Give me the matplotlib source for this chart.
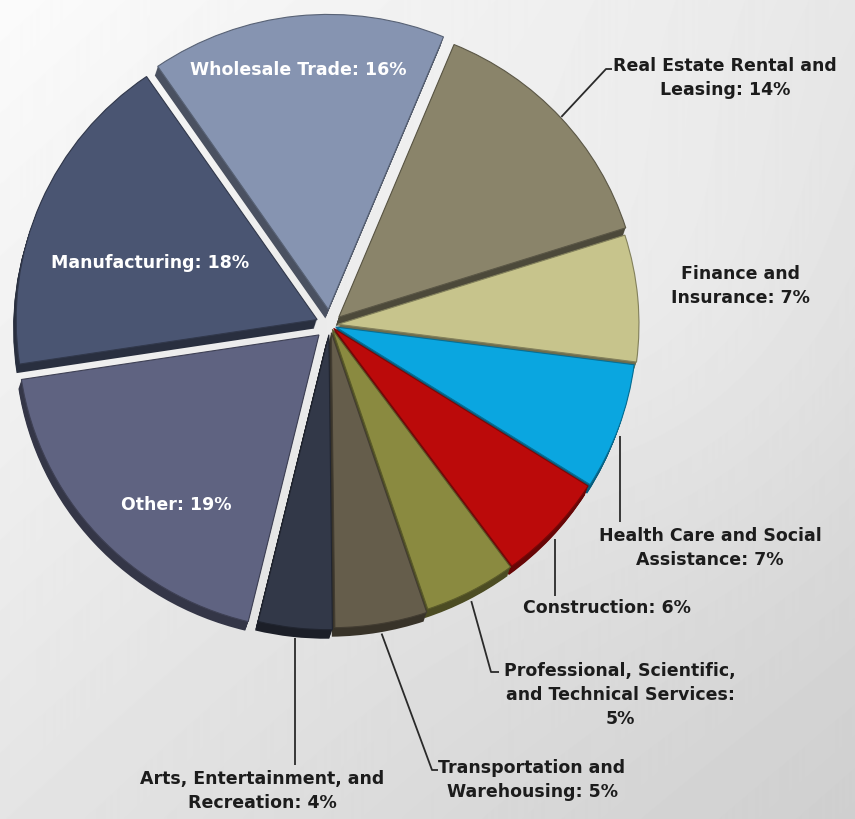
import numpy as np
import matplotlib
matplotlib.use("Agg")
import matplotlib.pyplot as plt
from matplotlib.colors import to_rgb

# ---------------- data ----------------
categories = [
    "Real Estate Rental and Leasing",
    "Finance and Insurance",
    "Health Care and Social Assistance",
    "Construction",
    "Professional, Scientific, and Technical Services",
    "Transportation and Warehousing",
    "Arts, Entertainment, and Recreation",
    "Other",
    "Manufacturing",
    "Wholesale Trade",
]
shares = [14, 7, 7, 6, 5, 5, 4, 19, 18, 16]
label_texts = [
    "Real Estate Rental and\nLeasing: 14%",
    "Finance and\nInsurance: 7%",
    "Health Care and Social\nAssistance: 7%",
    "Construction: 6%",
    "Professional, Scientific,\nand Technical Services:\n5%",
    "Transportation and\nWarehousing: 5%",
    "Arts, Entertainment, and\nRecreation: 4%",
    "Other: 19%",
    "Manufacturing: 18%",
    "Wholesale Trade: 16%",
]

# ---------------- style / layout ----------------
colors = ["#8a846a", "#c7c48c", "#0aa6e0", "#bb0a0a", "#8a8a40",
          "#655d4b", "#323848", "#5f6381", "#4a5572", "#8694b1"]
explode_px = [12, 8, 6, 5, 5, 8, 10, 15, 14, 16]
inside = [False] * 7 + [True] * 3
label_pos = [(725, 78), (740, 286), (710, 548), (607, 608), (620, 695),
             (532, 780), (262, 791), (176, 505), (150, 263), (298, 70)]
# leader paths after the start point on the slice; None for x = keep start x
leaders = {
    0: [(606, 69), (612, 69)],
    2: [(None, 522)],
    3: [(None, 596)],
    4: [(491, 672), (499, 672)],
    5: [(432, 770), (438, 770)],
    6: [(None, 765)],
}

W, H = 855, 819
K = 0.98            # vertical squash of the pie
cx, cy, R = 330, 325, 301
START = 67.5
DEPTH = 9           # extrusion depth in px

plt.rcParams['font.family'] = ['DejaVu Sans']

fig = plt.figure(figsize=(W / 100, H / 100), dpi=100)

# background gradient
bg = fig.add_axes([0, 0, 1, 1])
yy, xx = np.mgrid[0:H, 0:W]
val = 0.985 - 0.085 * (xx / W) - 0.09 * (yy / H)
bump = 0.03 * np.exp(-(((xx - 650) / 260) ** 2 + ((yy - 300) / 260) ** 2))
val = np.clip(val + bump, 0, 1)
bg.imshow(val, cmap='gray', vmin=0, vmax=1, extent=(0, W, H, 0), aspect='auto')
bg.axis('off')

# pie axes (x: px, y: px / K)
axp = fig.add_axes([0, 0, 1, 1])
axp.patch.set_alpha(0)

dark = [tuple(c * 0.55 for c in to_rgb(col)) for col in colors]
steps = np.linspace(1.0, 0.1, 10)
for t in steps:
    axp.pie(shares, explode=explode_px, colors=dark, startangle=START,
            counterclock=False, radius=R,
            center=(cx - 3 * t, (H - cy - DEPTH * t) / K),
            wedgeprops=dict(linewidth=0), frame=True)
wedges, _ = axp.pie(shares, explode=explode_px, colors=colors, startangle=START,
                    counterclock=False, radius=R, center=(cx, (H - cy) / K),
                    wedgeprops=dict(linewidth=0.8), frame=True)
for w, d in zip(wedges, dark):
    w.set_edgecolor(tuple(min(1, c * 1.2) for c in d))
axp.set_aspect('auto')
axp.set_xlim(0, W)
axp.set_ylim(0, H / K)
axp.axis('off')

# overlay axes in pixel coords
axt = fig.add_axes([0, 0, 1, 1])
axt.patch.set_alpha(0)
axt.set_xlim(0, W)
axt.set_ylim(H, 0)
axt.axis('off')


def to_px(x, y):
    return x, H - y * K


for i, txt in enumerate(label_texts):
    x, y = label_pos[i]
    axt.text(x, y, txt, ha='center', va='center', fontsize=12.5,
             fontweight='bold', color='white' if inside[i] else '#1c1c1c',
             linespacing=1.45)
    if i in leaders:
        w = wedges[i]
        th = np.deg2rad((w.theta1 + w.theta2) / 2)
        sx, sy = to_px(w.center[0] + (w.r + 1) * np.cos(th),
                       w.center[1] + (w.r + 1) * np.sin(th))
        if np.sin(th) < 0:
            sy += DEPTH
        pts = [(sx, sy)] + [(sx if px is None else px, py) for px, py in leaders[i]]
        axt.plot([p[0] for p in pts], [p[1] for p in pts], color='#2a2a2a',
                 lw=1.3, solid_capstyle='butt')

fig.savefig("out.png", dpi=100)
